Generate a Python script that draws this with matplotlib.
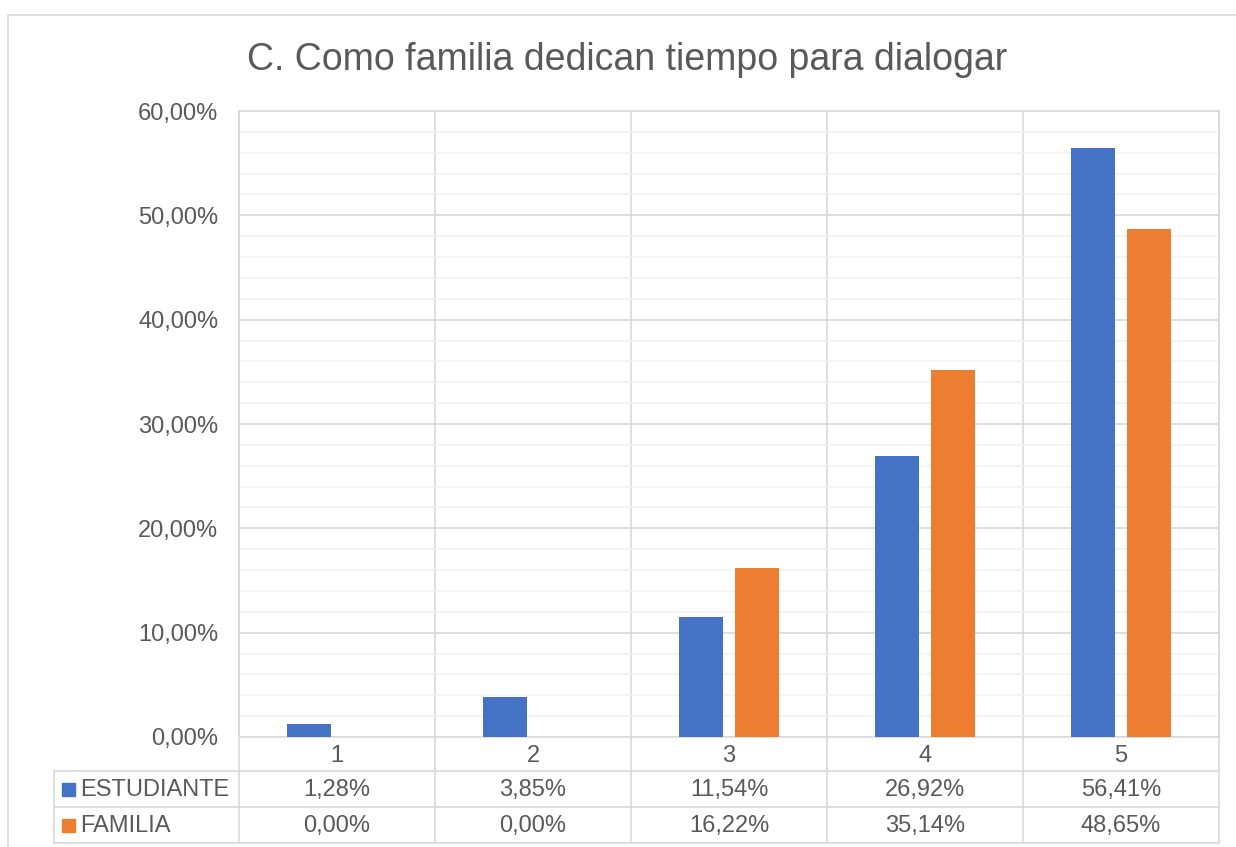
"""Excel-style column chart with a data table underneath."""

import matplotlib

matplotlib.use("Agg")
import matplotlib.pyplot as plt
from matplotlib.lines import Line2D
from matplotlib.patches import Rectangle
from matplotlib.ticker import FuncFormatter, MultipleLocator
from matplotlib.transforms import blended_transform_factory

TITLE = "C. Como familia dedican tiempo para dialogar"
categories = ["1", "2", "3", "4", "5"]
series_names = ["ESTUDIANTE", "FAMILIA"]
estudiante = [1.28, 3.85, 11.54, 26.92, 56.41]
familia = [0.00, 0.00, 16.22, 35.14, 48.65]

BLUE = "#4472C4"
ORANGE = "#ED7D31"
GRID = "#D9D9D9"
MINOR = "#F2F2F2"
TXT = "#595959"

W, H = 1236, 847
plt.rcParams["font.family"] = ["Liberation Sans", "DejaVu Sans"]


def pct(v):
    return f"{v:.2f}%".replace(".", ",")


def fx(px):
    return px / W


def fy(py):
    return 1 - py / H


def main() -> None:
    fig = plt.figure(figsize=(W / 100, H / 100), dpi=100)
    ax = fig.add_axes([fx(239), fy(737), fx(1219) - fx(239), fy(111) - fy(737)])

    # outer chart frame
    fig.patches.append(Rectangle((fx(8), fy(1000)), 1.2, fy(15) - fy(1000),
                                 transform=fig.transFigure, fill=False,
                                 ec=GRID, lw=1.2))

    x = list(range(len(categories)))
    bw, off = 0.2245, 0.143
    ax.bar([i - off for i in x], estudiante, width=bw, color=BLUE, zorder=3)
    ax.bar([i + off for i in x], familia, width=bw, color=ORANGE, zorder=3)

    ax.set_xlim(-0.5, len(categories) - 0.5)
    ax.set_ylim(0, 60)
    ax.yaxis.set_major_locator(MultipleLocator(10))
    ax.yaxis.set_minor_locator(MultipleLocator(2))
    ax.yaxis.set_major_formatter(FuncFormatter(lambda v, _: pct(v)))
    ax.grid(axis="y", which="minor", color=MINOR, lw=1.2, zorder=0)
    ax.grid(axis="y", which="major", color=GRID, lw=1.2, zorder=1)
    ax.tick_params(axis="y", which="both", length=0, pad=15,
                   labelsize=17, labelcolor=TXT)
    ax.set_xticks([])
    for s in ax.spines.values():
        s.set_color(GRID)
        s.set_linewidth(1.2)

    fig.text(fx(627), fy(60), TITLE, ha="center", va="center",
             fontsize=27, color=TXT)

    # data table
    bt = blended_transform_factory(ax.transData, fig.transFigure)
    edges = [i - 0.5 for i in x] + [len(categories) - 0.5]
    ax.vlines(edges, fy(843), fy(111), transform=bt, colors=GRID, lw=1.2,
              clip_on=False, zorder=1)
    for py in (771, 807, 843):
        fig.add_artist(Line2D([fx(54), fx(1219)], [fy(py), fy(py)],
                              color=GRID, lw=1.2))
    fig.add_artist(Line2D([fx(54), fx(54)], [fy(771), fy(843)], color=GRID, lw=1.2))

    for i, cat in enumerate(categories):
        ax.text(i, fy(756), cat, transform=bt, ha="center", va="center",
                fontsize=17, color=TXT)
        ax.text(i, fy(790), pct(estudiante[i]), transform=bt, ha="center",
                va="center", fontsize=17, color=TXT)
        ax.text(i, fy(826), pct(familia[i]), transform=bt, ha="center",
                va="center", fontsize=17, color=TXT)

    for name, color, py in zip(series_names, (BLUE, ORANGE), (790, 826)):
        fig.patches.append(Rectangle((fx(62), fy(py + 6)), fx(13), fy(0) - fy(13),
                                     transform=fig.transFigure, color=color))
        fig.text(fx(80), fy(py), name, ha="left", va="center",
                 fontsize=17, color=TXT)

    fig.savefig("out.png", dpi=100)


if __name__ == "__main__":
    main()
